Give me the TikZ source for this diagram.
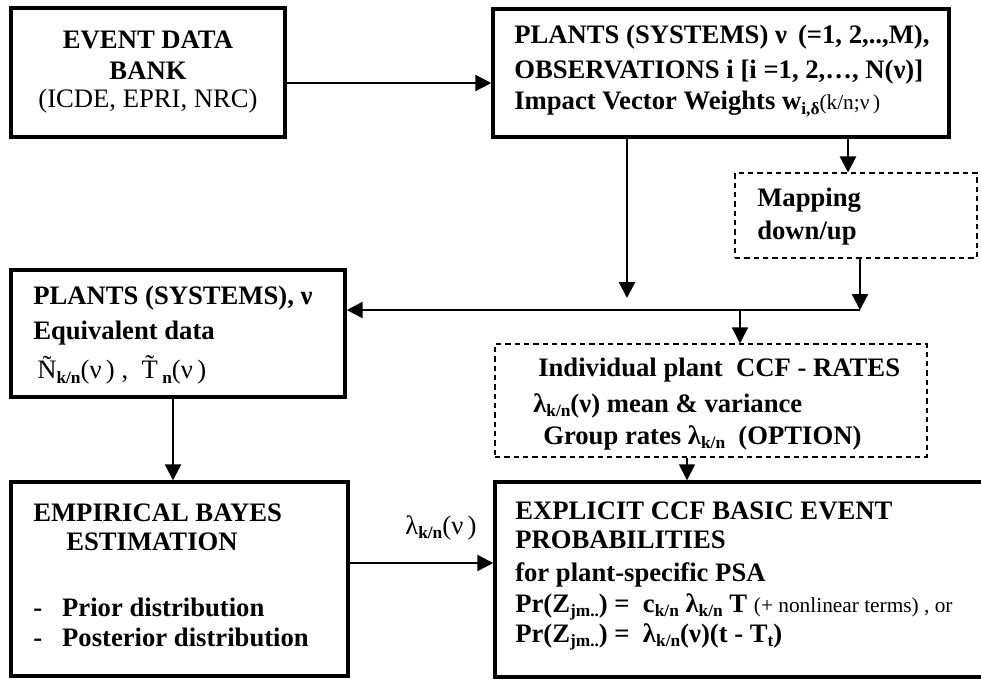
\documentclass[tikz,border=0pt]{standalone}
\usepackage{fontspec}
\setmainfont{Liberation Serif}
\usetikzlibrary{arrows.meta}
\newdimen\px \px=0.75pt
\newcommand{\sbx}[1]{\raisebox{-0.35ex}{\fontsize{13}{13}\selectfont #1}}
\begin{document}
\begin{tikzpicture}[x=0.75pt,y=-0.75pt,
  solidbox/.style={draw, line width=2.6pt, inner sep=0pt},
  dashbox/.style={draw, line width=0.8pt, dashed, dash pattern=on 4pt off 3pt, inner sep=0pt},
  txt/.style={inner sep=0pt, font=\fontsize{20}{24}\selectfont\bfseries},
  rtxt/.style={inner sep=0pt, font=\fontsize{20}{24}\selectfont\mdseries},
  conn/.style={line width=1.8pt, -{Triangle[width=12pt,length=12pt]}},
  thin conn/.style={line width=1.1pt, -{Triangle[width=12pt,length=12pt]}}]
\useasboundingbox (0,0) rectangle (981,679);

% boxes
\node[solidbox, minimum width=274\px, minimum height=129\px] (A) at (148,72.5) {};
\node[solidbox, minimum width=456\px, minimum height=128\px] (B) at (721,73) {};
\node[dashbox, minimum width=242\px, minimum height=85\px] (M) at (856,215.5) {};
\node[solidbox, minimum width=334\px, minimum height=127\px] (C) at (178,333.5) {};
\node[dashbox, minimum width=432\px, minimum height=113\px] (R) at (711,400.5) {};
\node[solidbox, minimum width=490\px, minimum height=195\px] (D) at (740,579.5) {};
\node[solidbox, minimum width=337\px, minimum height=194\px] (E) at (179.5,579) {};

% texts
\node[txt, anchor=center] (a1) at (148,40) {EVENT DATA};
\node[txt, anchor=center] (a2) at (148,71) {BANK};
\node[rtxt, anchor=center] (a3) at (148,101) {(ICDE, EPRI, NRC)};

\node[txt, anchor=west] (b1) at (514,37) {PLANTS (SYSTEMS) ν\, (=1, 2,..,M),};
\node[txt, anchor=west] (b2) at (514,72) {OBSERVATIONS i [i =1, 2,…, N(ν)]};
\node[txt, anchor=west] (b3) at (514,104) {Impact Vector Weights w\sbx{i,δ}{\fontsize{16}{16}\selectfont\mdseries(k/n;ν\,)}};

\node[txt, anchor=west] (m1) at (757,200) {Mapping};
\node[txt, anchor=west] (m2) at (757,233) {down/up};

\node[txt, anchor=west] (c1) at (33,298) {PLANTS (SYSTEMS), ν};
\node[txt, anchor=west] (c2) at (33,333) {Equivalent data};
\node[rtxt, anchor=west] (c3) at (37,370) {Ñ\sbx{\bfseries k/n}(ν\,) ,\ \ \~{T}\,\sbx{\bfseries n}(ν\,)};

\node[txt, anchor=west] (r1) at (538,370) {Individual plant\ \ CCF - RATES};
\node[txt, anchor=west] (r2) at (533,406) {λ\sbx{k/n}(ν) mean \& variance};
\node[txt, anchor=west] (r3) at (543,438) {Group rates λ\sbx{k/n}\ \ (OPTION)};

\node[txt, anchor=west] (d1) at (515,511) {EXPLICIT CCF BASIC EVENT};
\node[txt, anchor=west] (d2) at (515,540) {PROBABILITIES};
\node[txt, anchor=west] (d3) at (515,575) {for plant-specific PSA};
\node[txt, anchor=west] (d4) at (515,607) {Pr(Z\sbx{jm..}) =\ \ c\sbx{k/n} λ\sbx{k/n} T {\fontsize{16}{16}\selectfont\mdseries (+ nonlinear terms) , or}};
\node[txt, anchor=west] (d5) at (515,637) {Pr(Z\sbx{jm..}) =\ \ λ\sbx{k/n}(ν)(t - T\sbx{t})};

\node[txt, anchor=west] (e1) at (33,513) {EMPIRICAL BAYES};
\node[txt, anchor=west] (e2) at (66,542) {ESTIMATION};
\node[txt, anchor=west] (e3) at (33,607) {-\ \ \ Prior distribution};
\node[txt, anchor=west] (e4) at (33,637) {-\ \ \ Posterior distribution};

\node[rtxt, anchor=center] (lab) at (441,528) {λ\sbx{\bfseries k/n}(ν\,)};

% junction coordinates
\coordinate (j1) at (627,298);
\coordinate (j2) at (860,310);
\coordinate (j3) at (740,310);

% connectors
\draw[conn] (A.east |- 0,83) -- (B.west |- 0,83);
\draw[conn] (B.south -| j1) -- (j1);
\draw[conn] (B.south -| 848,0) -- (M.north -| 848,0);
\draw[conn] (M.south -| j2) -- (j2);
\draw[conn] (j2) -- (C.east |- j2);
\draw[thin conn] (j3) -- (R.north -| j3);
\draw[thin conn] (R.south -| 687,0) -- (D.north -| 687,0);
\draw[conn] (C.south -| 173,0) -- (E.north -| 173,0);
\draw[conn] (E.east |- 0,563) -- (D.west |- 0,563);
\end{tikzpicture}
\end{document}
